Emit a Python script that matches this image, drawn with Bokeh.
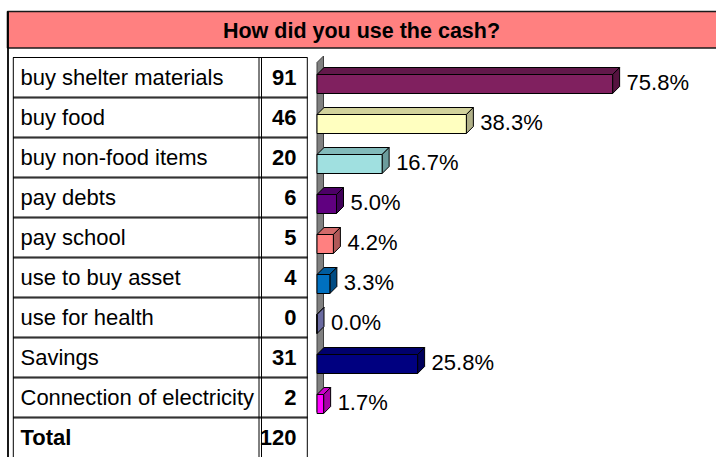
from bokeh.plotting import figure
from bokeh.models import Range1d, ColumnDataSource
from bokeh.embed import file_html
from bokeh.resources import INLINE
from bokeh.core.properties import value

# ---- data ----
title_text = "How did you use the cash?"
categories = ["buy shelter materials", "buy food", "buy non-food items", "pay debts",
              "pay school", "use to buy asset", "use for health", "Savings",
              "Connection of electricity"]
counts = [91, 46, 20, 6, 5, 4, 0, 31, 2]
percents = [75.8, 38.3, 16.7, 5.0, 4.2, 3.3, 0.0, 25.8, 1.7]
total_label = "Total"
total_count = 120

front_colors = ["#80205F", "#FFFFC0", "#A0E0E0", "#600080", "#FF8080",
                "#0070C0", "#8080C0", "#000080", "#FF00FF"]
top_colors = ["#62184A", "#D2D29C", "#82BABA", "#4C0066", "#D26A6A",
              "#005C9E", "#7070AA", "#00006C", "#CC00CC"]
side_colors = ["#55123F", "#B0B088", "#6C9C9C", "#400058", "#B05858",
               "#004C84", "#6A6AA0", "#00005C", "#A800A8"]

# ---- layout constants (pixels in the window) ----
W, H = 716, 457
ROW_TOP, ROW_H = 57, 40
ZERO_X, PX_PER_PCT = 316.5, 3.9
DEPTH = 7
FONT = value("Liberation Sans")
FS = "22px"
LABEL_POS = 0.51   # baseline position inside a row (fraction of row height)
PCT_POS = 0.63

p = figure(width=W, height=H, x_range=Range1d(0, W), y_range=Range1d(H, 0),
           output_backend="svg", toolbar_location=None, min_border=0,
           x_axis_location=None, y_axis_location=None)
p.grid.visible = False
p.outline_line_color = None
p.background_fill_color = "white"
p.border_fill_color = "white"

# row-index range (row i spans i..i+1) and percent range for the bars
p.extra_y_ranges = {"row": Range1d(start=(H - ROW_TOP) / ROW_H, end=(0 - ROW_TOP) / ROW_H)}
p.extra_x_ranges = {"pct": Range1d(start=(0 - ZERO_X) / PX_PER_PCT,
                                   end=(W - ZERO_X) / PX_PER_PCT)}

n_rows = len(categories) + 1

# ---- title band ----
p.quad(left=7, right=730, top=11, bottom=47.5, fill_color="#FF8080",
       line_color="#1a1a1a", line_width=1.6)
p.text(x=[361], y=[30.5], text=[title_text], text_font=FONT, text_font_size="21.5px",
       text_font_style="bold", text_align="center", text_baseline="alphabetic",
       text_color="black")

# outer frame line at left
p.segment(x0=[7.5], y0=[11], x1=[7.5], y1=[460], line_color="black", line_width=1.8)

# ---- table ----
sep_rows = list(range(1, n_rows))
p.segment(x0=[12.5] * len(sep_rows), x1=[307] * len(sep_rows), y0=sep_rows, y1=sep_rows,
          y_range_name="row", line_color="#8a8a8a", line_width=3)
p.segment(x0=[12.5] * len(sep_rows), x1=[307] * len(sep_rows), y0=sep_rows, y1=sep_rows,
          y_range_name="row", line_color="#333333", line_width=1)
p.segment(x0=[12.5], x1=[307], y0=[0], y1=[0], y_range_name="row",
          line_color="black", line_width=1.2)
vx = [12.8, 258.5, 261, 306.8]
p.segment(x0=vx, x1=vx, y0=[0] * 4, y1=[n_rows + 0.2] * 4, y_range_name="row",
          line_color="black", line_width=1)

label_rows = [i + LABEL_POS for i in range(len(categories))]
p.text(x=[20] * len(categories), y=label_rows, text=categories, y_range_name="row",
       text_font=FONT, text_font_size=FS, text_baseline="alphabetic",
       text_align="left", text_color="black")
p.text(x=[296] * len(counts), y=label_rows, text=[str(c) for c in counts],
       y_range_name="row", text_font=FONT, text_font_size=FS,
       text_font_style="bold", text_baseline="alphabetic", text_align="right",
       text_color="black")
tr = len(categories) + LABEL_POS
p.text(x=[20], y=[tr], text=[total_label], y_range_name="row", text_font=FONT,
       text_font_size=FS, text_font_style="bold", text_baseline="alphabetic",
       text_align="left", text_color="black")
p.text(x=[296], y=[tr], text=[str(total_count)], y_range_name="row", text_font=FONT,
       text_font_size=FS, text_font_style="bold", text_baseline="alphabetic",
       text_align="right", text_color="black")

# ---- 3D bars ----
ddx = DEPTH / PX_PER_PCT
ddy = DEPTH / ROW_H
wall_dx = 6.5 / PX_PER_PCT
wall_dy = 6.5 / ROW_H
f_top = 17 / ROW_H
f_bot = 36 / ROW_H

# side wall (axis)
p.patch(x=[0, wall_dx, wall_dx, 0],
        y=[5 / ROW_H, 5 / ROW_H - wall_dy, len(categories) - 0.15 - wall_dy, len(categories) - 0.15],
        x_range_name="pct", y_range_name="row",
        fill_color="#808080", line_color="#404040", line_width=1)

top_xs, top_ys, side_xs, side_ys = [], [], [], []
for i, v in enumerate(percents):
    t = i + f_top
    b = i + f_bot
    top_xs.append([0, v, v + ddx, ddx])
    top_ys.append([t, t, t - ddy, t - ddy])
    side_xs.append([v, v + ddx, v + ddx, v])
    side_ys.append([t, t - ddy, b - ddy, b])

p.patches(xs=top_xs, ys=top_ys, fill_color=top_colors, line_color="black", line_width=1,
          x_range_name="pct", y_range_name="row")
p.patches(xs=side_xs, ys=side_ys, fill_color=side_colors, line_color="black", line_width=1,
          x_range_name="pct", y_range_name="row")
p.quad(left=[0] * len(percents), right=percents,
       top=[i + f_top for i in range(len(percents))],
       bottom=[i + f_bot for i in range(len(percents))],
       fill_color=front_colors, line_color="black", line_width=1,
       x_range_name="pct", y_range_name="row")

pct_src = ColumnDataSource(dict(x=percents, y=[i + PCT_POS for i in range(len(percents))],
                                t=[f"{v:.1f}%" for v in percents]))
p.text(x="x", y="y", text="t", source=pct_src, x_offset=14, x_range_name="pct",
       y_range_name="row", text_font=FONT, text_font_size=FS,
       text_baseline="alphabetic", text_align="left", text_color="black")

open("out.html", "w").write(file_html(p, INLINE))
